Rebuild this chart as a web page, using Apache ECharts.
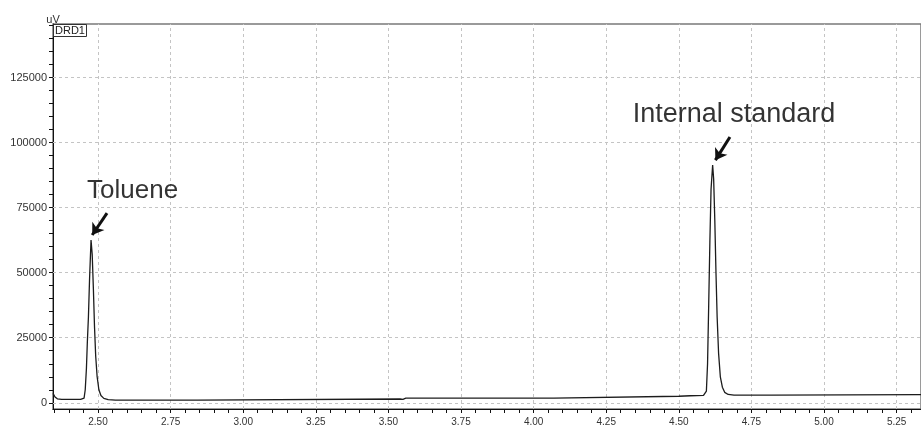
<!DOCTYPE html>
<html>
<head>
<meta charset="utf-8">
<script src="https://cdn.jsdelivr.net/npm/echarts@6/dist/echarts.min.js"></script>
<style>html,body{margin:0;padding:0;background:#fff}#c{width:921px;height:432px}</style>
</head>
<body>
<div id="c"></div>
<script>
// Retention time (min) and detector signal (uV)
const times = [2.345, 2.352, 2.360, 2.375, 2.440, 2.452, 2.456, 2.460, 2.4635, 2.467, 2.471, 2.476, 2.480, 2.484, 2.488, 2.492, 2.497, 2.503, 2.510, 2.520, 2.535, 2.560,
  2.843, 2.846, 3.540, 3.545, 3.550, 3.554, 3.560, 4.070, 4.075, 4.500, 4.540, 4.585, 4.591,
  4.595, 4.599, 4.603, 4.607, 4.611, 4.6165, 4.620, 4.624, 4.628, 4.632, 4.637, 4.643, 4.650, 4.658, 4.670, 4.690,
  4.820, 4.825, 5.334];
const signal = [3600, 2200, 1500, 1300, 1300, 1800, 5000, 13000, 24000, 33000, 48000, 62600, 57000, 44000, 29000, 18000, 10000, 5000, 2800, 1700, 1200, 1050,
  1050, 1450, 1450, 2000, 1300, 1500, 1750, 1800, 2450, 2500, 2700, 2850, 3200,
  4500, 15000, 38000, 62000, 82000, 91400, 86000, 70000, 50000, 33000, 19000, 10000, 6000, 4000, 3200, 2900,
  2900, 3100, 3100];

const xLabelValues = [2.50, 2.75, 3.00, 3.25, 3.50, 3.75, 4.00, 4.25, 4.50, 4.75, 5.00, 5.25];
const xTickValues = [2.35,2.40,2.45,2.50,2.55,2.60,2.65,2.70,2.75,2.80,2.85,2.90,2.95,3.00,3.05,3.10,3.15,3.20,3.25,3.30,3.35,3.40,3.45,3.50,3.55,3.60,3.65,3.70,3.75,3.80,3.85,3.90,3.95,4.00,4.05,4.10,4.15,4.20,4.25,4.30,4.35,4.40,4.45,4.50,4.55,4.60,4.65,4.70,4.75,4.80,4.85,4.90,4.95,5.00,5.05,5.10,5.15,5.20,5.25,5.30];
const yLabelValues = [0, 25000, 50000, 75000, 100000, 125000];
const yTickValues = [0,5000,10000,15000,20000,25000,30000,35000,40000,45000,50000,55000,60000,65000,70000,75000,80000,85000,90000,95000,100000,105000,110000,115000,120000,125000,130000,135000,140000,145000];

const annotations = [
  { name: 'Toluene', at: [2.619, 81400], arrowFrom: [2.531, 72900], arrowTo: [2.480, 64500], size: 26 },
  { name: 'Internal standard', at: [4.690, 110700], arrowFrom: [4.676, 102200], arrowTo: [4.626, 93300], size: 27 }
];

const X_MIN = 2.345, X_MAX = 5.334, Y_MIN = -2400, Y_MAX = 145650;

const chart = echarts.init(document.getElementById('c'), null, { renderer: 'canvas' });
const gridStyle = { color: '#c4c4c4', width: 1, type: [3, 3] };
const font = 'Arial, "Liberation Sans", sans-serif';

chart.setOption({
  animation: false,
  backgroundColor: '#fff',
  title: {
    text: 'DRD1', left: 53, top: 24, padding: [1, 2, 0, 2],
    borderColor: '#333', borderWidth: 1,
    textStyle: { fontSize: 11, fontWeight: 'normal', color: '#222', fontFamily: font, lineHeight: 12 }
  },
  grid: { left: 53, right: 0, top: 24, bottom: 23, show: true, borderColor: '#7a7a7a', borderWidth: 1.5 },
  xAxis: {
    type: 'value', min: X_MIN, max: X_MAX,
    axisLine: { show: true, onZero: false, lineStyle: { color: '#111', width: 1 } },
    axisTick: { show: true, length: 4, customValues: xTickValues, lineStyle: { color: '#111' } },
    axisLabel: { customValues: xLabelValues, fontSize: 10, color: '#333', fontFamily: font, margin: 8,
      formatter: v => v.toFixed(2) },
    splitLine: { show: false }
  },
  yAxis: {
    type: 'value', min: Y_MIN, max: Y_MAX,
    name: 'uV', nameLocation: 'end', nameGap: -1,
    nameTextStyle: { fontSize: 11, color: '#333', fontFamily: font, align: 'center', padding: 0 },
    axisLine: { show: true, onZero: false, lineStyle: { color: '#111', width: 1 } },
    axisTick: { show: true, length: 4, customValues: yTickValues, lineStyle: { color: '#111' } },
    axisLabel: { customValues: yLabelValues, fontSize: 11, color: '#333', fontFamily: font, margin: 6,
      formatter: v => String(v) },
    splitLine: { show: false }
  },
  series: [
    {
      type: 'line', data: [], silent: true,
      markLine: {
        silent: true, symbol: ['none', 'none'], label: { show: false },
        lineStyle: gridStyle,
        data: xLabelValues.map(v => ({ xAxis: v })).concat(yLabelValues.map(v => ({ yAxis: v })))
      }
    },
    {
      type: 'line', showSymbol: false, symbol: 'none', smooth: false,
      lineStyle: { color: '#1c1c1c', width: 1.3 },
      data: times.map((t, i) => [t, signal[i]]),
      z: 5
    },
    {
      type: 'scatter', symbolSize: 0, itemStyle: { color: 'rgba(0,0,0,0)' }, silent: true,
      data: annotations.map(a => ({ value: a.at, name: a.name,
        label: { show: true, position: 'inside', formatter: a.name, fontSize: a.size, color: '#000',
          textBorderWidth: 0, fontFamily: font } })),
      markLine: {
        silent: true, symbol: ['none', 'arrow'], symbolSize: [11, 11], label: { show: false },
        lineStyle: { color: '#111', width: 3, type: 'solid' },
        data: annotations.map(a => [{ coord: a.arrowFrom }, { coord: a.arrowTo }])
      },
      z: 6
    }
  ]
});
</script>
</body>
</html>
